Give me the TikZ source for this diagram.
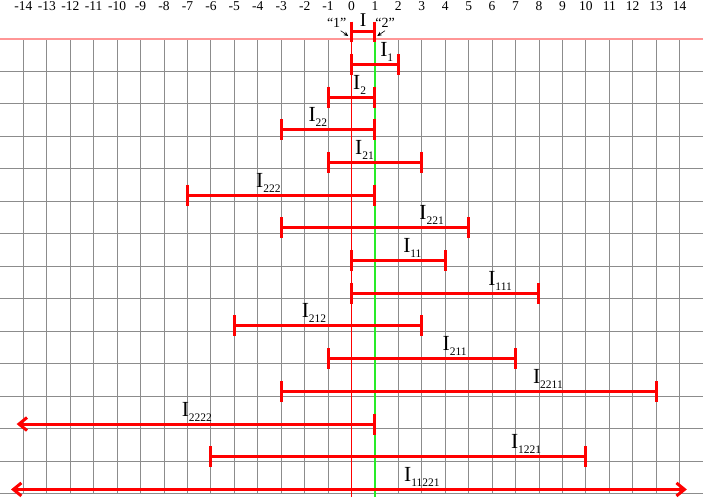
\documentclass[tikz,border=0pt]{standalone}
\usepackage{fontspec}
\setmainfont{Liberation Serif}
\usetikzlibrary{arrows.meta}
\definecolor{barred}{RGB}{255,0,0}
\definecolor{pinkline}{RGB}{255,150,150}
\definecolor{gridgray}{RGB}{140,140,140}
\definecolor{greenline}{RGB}{40,235,40}
\newcommand\Ilab[1]{\fontsize{21.5}{21.5}\selectfont I\raisebox{-5pt}{\fontsize{11.5}{11.5}\selectfont #1}}
\tikzset{
  gridline/.style={draw=gridgray, line width=0.8pt},
  bar/.style={draw=barred, line width=3pt},
  axisline/.style={draw=barred, line width=1.8pt},
  oneline/.style={draw=greenline, line width=1.8pt},
  lab/.style={anchor=base west, inner sep=0pt},
  axnum/.style={anchor=base, inner sep=0pt, font=\fontsize{13.5}{13.5}\selectfont},
  quote/.style={anchor=base, inner sep=0pt, font=\fontsize{14}{14}\selectfont},
  pointer/.style={draw=black, line width=0.6pt, -{Stealth[length=4.5pt,width=4pt]}},
  barb/.tip={Straight Barb[length=8pt,width=13pt]}
}
\begin{document}
\begin{tikzpicture}[x=23.43pt, y=-1pt]
\useasboundingbox (-15,0) rectangle (15,497);
% grid
\foreach \i in {-14,...,-1,2,3,...,14} \draw[gridline] (\i,38.7) -- (\i,493.5);
\foreach \k in {1,...,14} \draw[gridline] (-15,{38.7+32.49*\k}) -- (15,{38.7+32.49*\k});
\draw[pinkline, line width=2pt] (-15,38.7) -- (15,38.7);
\coordinate (zt) at (0,31.7);
\coordinate (zb) at (0,497);
\coordinate (ot) at (1,38.7);
\coordinate (ob) at (1,497);
\draw[axisline] (zt) -- (zb);
\draw[oneline] (ot) -- (ob);
% axis numbers
\foreach \i in {-14,...,14} \node[axnum] (ax\i) at (\i,10.7) {\i};
% top interval I
\coordinate (L0) at (0,31.7);
\coordinate (R0) at (1,31.7);
\draw[bar] (L0) -- (R0);
\draw[bar] ([yshift=10pt]L0) -- ([yshift=-10pt]L0);
\draw[bar] ([yshift=10pt]R0) -- ([yshift=-10pt]R0);
\node[anchor=base, inner sep=0pt, font=\fontsize{19.5}{19.5}\selectfont] (lab0) at (0.5,26.7) {I};
\node[quote] (q1) at (-0.63,27) {“1”};
\node[quote] (q2) at (1.43,27) {“2”};
\coordinate (p1) at (-0.14,36);
\coordinate (p2) at (1.10,36);
\draw[pointer] ([xshift=4pt,yshift=-3.5pt]q1.south) -- (p1);
\draw[pointer] ([yshift=-3.5pt]q2.south) -- (p2);
% intervals with end ticks
\foreach \k/\a/\b/\s/\lx in {1/0/2/1/1.22, 2/-1/1/2/0.06, 3/-3/1/22/-1.84, 4/-1/3/21/0.15,
  5/-7/1/222/-4.08, 6/-3/5/221/2.89, 7/0/4/11/2.2, 8/0/8/111/5.83, 9/-5/3/212/-2.13,
  10/-1/7/211/3.88, 11/-3/13/2211/7.74, 13/-6/10/1221/6.8}{
  \coordinate (L\k) at (\a,{31.7+32.69*\k});
  \coordinate (R\k) at (\b,{31.7+32.69*\k});
  \draw[bar] (L\k) -- (R\k);
  \draw[bar] ([yshift=10.5pt]L\k) -- ([yshift=-10.5pt]L\k);
  \draw[bar] ([yshift=10.5pt]R\k) -- ([yshift=-10.5pt]R\k);
  \node[lab] (lab\k) at (\lx,{31.7+32.69*\k-8}) {\Ilab{\s}};
}
% I_2222
\coordinate (L12) at (-14.29,{31.7+32.69*12});
\coordinate (R12) at (1,{31.7+32.69*12});
\draw[bar, barb-] (L12) -- (R12);
\draw[bar] ([yshift=10.5pt]R12) -- ([yshift=-10.5pt]R12);
\node[lab] (lab12) at (-7.25,{31.7+32.69*12-8}) {\Ilab{2222}};
% I_11221
\coordinate (L14) at (-14.53,{31.7+32.69*14});
\coordinate (R14) at (14.31,{31.7+32.69*14});
\draw[bar, barb-barb] (L14) -- (R14);
\node[lab] (lab14) at (2.24,{31.7+32.69*14-8}) {\Ilab{11221}};
\end{tikzpicture}
\end{document}
